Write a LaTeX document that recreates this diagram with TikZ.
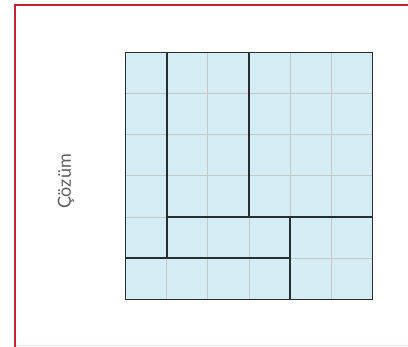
\documentclass[tikz,border=0pt]{standalone}
\usepackage{fontspec}
\setmainfont{Lato}
\usepackage{tikz}
\definecolor{frameRed}{RGB}{200,32,52}
\definecolor{framePink}{RGB}{250,220,228}
\definecolor{cellBlue}{RGB}{212,236,243}
\definecolor{gridGray}{RGB}{200,200,200}
\definecolor{edgeDark}{RGB}{40,46,48}
\definecolor{labelGray}{RGB}{95,95,95}

\begin{document}
\begin{tikzpicture}[
        x=1pt,y=1pt,
        label/.style={font=\fontsize{18}{18}\selectfont,text=labelGray,rotate=90,inner sep=0pt},
        thin grid/.style={draw=gridGray,line width=1pt},
        cut/.style={draw=edgeDark,line width=1.4pt,line cap=round}
      ]
        \useasboundingbox (0,0) rectangle (408,347);
        % frame
        \draw[framePink,line width=1pt] (15,1.2) -- (408,1.2);
        \draw[frameRed,line width=2.4pt] (15,0) -- (15,341.7) -- (408,341.7);
        % label
        \node[label] (sol) at (66,165.5) {Çözüm};
        % board
        \begin{scope}[shift={(125.7,47.7)},x=41.1pt,y=41.1pt]
          \fill[cellBlue] (0,0) rectangle (6,6);
          \draw[thin grid,step=1] (0,0) grid (6,6);
          \draw[cut] (0,0) rectangle (6,6);
          \draw[cut] (1,6) -- (1,1);
          \draw[cut] (3,6) -- (3,2);
          \draw[cut] (1,2) -- (6,2);
          \draw[cut] (4,2) -- (4,0);
          \draw[cut] (0,1) -- (4,1);
        \end{scope}
      \end{tikzpicture}
\end{document}
